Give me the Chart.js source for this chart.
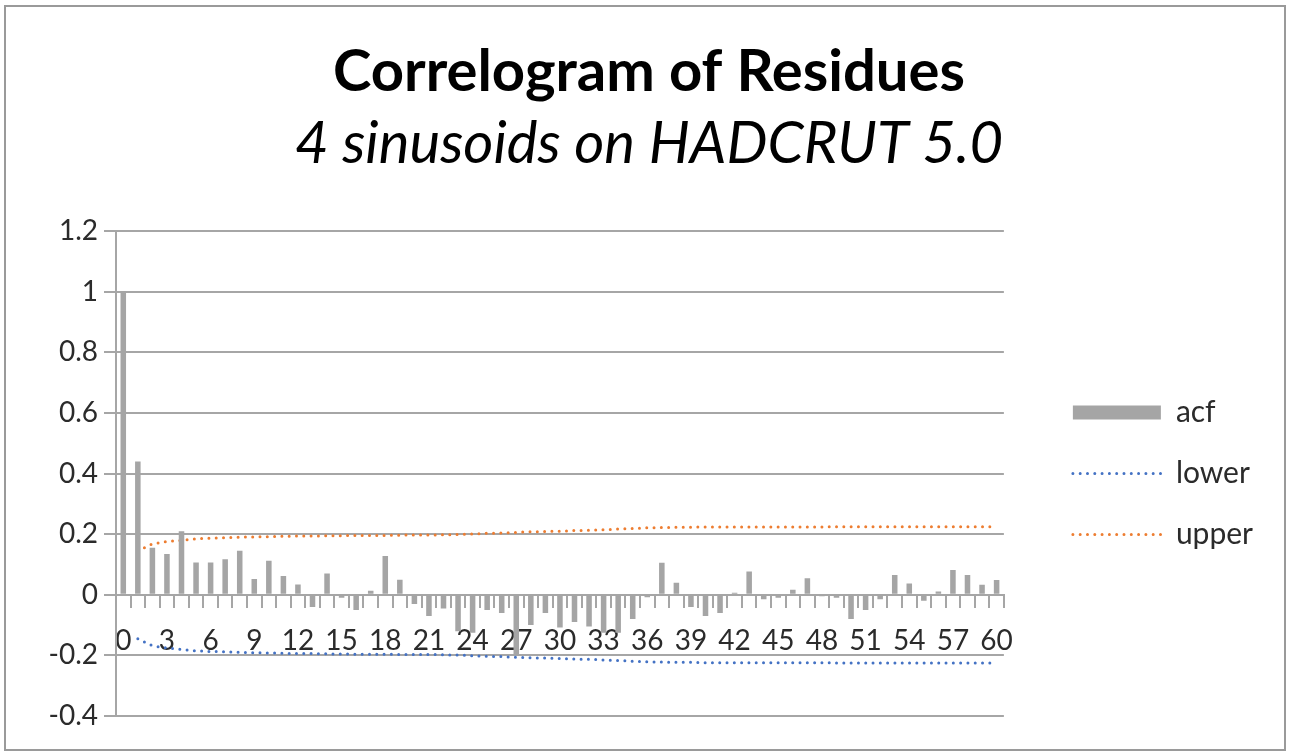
<!DOCTYPE html>
<html>
<head>
<meta charset="utf-8">
<script src="https://cdn.jsdelivr.net/npm/chart.js@4/dist/chart.umd.min.js"></script>
<style>
html, body { margin: 0; padding: 0; background: #fff; }
#wrap { position: relative; width: 1290px; height: 754px; }
#frame { position: absolute; left: 4px; top: 5px; width: 1278px; height: 742px; border: 2px solid #9a9a9a; pointer-events: none; }
</style>
</head>
<body>
<div id="wrap">
  <canvas id="chart" width="1290" height="754"></canvas>
  <div id="frame"></div>
</div>
<script>
// lags 0..60
const lags = ['0','1','2','3','4','5','6','7','8','9','10','11','12','13','14','15','16','17','18','19','20',
  '21','22','23','24','25','26','27','28','29','30','31','32','33','34','35','36','37','38','39','40',
  '41','42','43','44','45','46','47','48','49','50','51','52','53','54','55','56','57','58','59','60'];

// autocorrelation of residues
const acf = [1.0, 0.44, 0.155, 0.135, 0.21, 0.107, 0.107, 0.117, 0.145, 0.052, 0.112,
  0.062, 0.034, -0.04, 0.07, -0.01, -0.05, 0.013, 0.128, 0.05, -0.03,
  -0.07, -0.045, -0.12, -0.125, -0.05, -0.06, -0.2, -0.1, -0.06, -0.108,
  -0.09, -0.105, -0.125, -0.125, -0.08, -0.008, 0.106, 0.04, -0.04, -0.07,
  -0.06, 0.007, 0.077, -0.015, -0.01, 0.017, 0.055, -0.005, -0.01, -0.08,
  -0.05, -0.015, 0.065, 0.037, -0.02, 0.011, 0.082, 0.065, 0.033, 0.049];

// confidence bands
const upper = [null, 0.145, 0.168, 0.176, 0.180, 0.185, 0.187, 0.188, 0.190, 0.191, 0.192,
  0.193, 0.194, 0.194, 0.195, 0.195, 0.196, 0.196, 0.196, 0.197, 0.197,
  0.197, 0.198, 0.199, 0.201, 0.203, 0.204, 0.206, 0.208, 0.209, 0.210,
  0.212, 0.213, 0.215, 0.217, 0.219, 0.221, 0.222, 0.223, 0.223, 0.224,
  0.224, 0.224, 0.224, 0.224, 0.224, 0.224, 0.224, 0.224, 0.225, 0.225,
  0.225, 0.225, 0.225, 0.225, 0.225, 0.225, 0.225, 0.225, 0.225, 0.225];
const lower = [null, -0.145, -0.168, -0.176, -0.180, -0.185, -0.187, -0.188, -0.190, -0.191, -0.192,
  -0.193, -0.194, -0.194, -0.195, -0.195, -0.196, -0.196, -0.196, -0.197, -0.197,
  -0.197, -0.198, -0.199, -0.201, -0.203, -0.204, -0.206, -0.208, -0.209, -0.210,
  -0.212, -0.213, -0.215, -0.217, -0.219, -0.221, -0.222, -0.223, -0.223, -0.224,
  -0.224, -0.224, -0.224, -0.224, -0.224, -0.224, -0.224, -0.224, -0.225, -0.225,
  -0.225, -0.225, -0.225, -0.225, -0.225, -0.225, -0.225, -0.225, -0.225, -0.225];

const yTicks = [-0.4, -0.2, 0, 0.2, 0.4, 0.6, 0.8, 1, 1.2];
const yTickLabels = ['-0.4', '-0.2', '0', '0.2', '0.4', '0.6', '0.8', '1', '1.2'];

const gridGray = '#a6a6a6';
const textCol = '#2b2b2b';

const ctx = document.getElementById('chart').getContext('2d');
new Chart(ctx, {
  type: 'bar',
  data: {
    labels: lags,
    datasets: [
      { type: 'bar', label: 'acf', data: acf, backgroundColor: '#a5a5a5', borderWidth: 0,
        barPercentage: 0.38, categoryPercentage: 1, pointStyle: 'rect' },
      { type: 'line', label: 'lower', data: lower, borderColor: '#4472c4', borderWidth: 3,
        borderDash: [0, 7.3], borderCapStyle: 'round', pointRadius: 0, pointStyle: 'line', fill: false },
      { type: 'line', label: 'upper', data: upper, borderColor: '#ed7d31', borderWidth: 3,
        borderDash: [0, 7.3], borderCapStyle: 'round', pointRadius: 0, pointStyle: 'line', fill: false }
    ]
  },
  options: {
    responsive: false,
    animation: false,
    layout: { padding: { left: 35, right: 27, top: 37, bottom: 38 } },
    plugins: {
      title: {
        display: true, text: 'Correlogram of Residues', color: '#000',
        font: { family: 'Lato', size: 58, weight: 'bold', lineHeight: 1.2 },
        padding: { top: 0, bottom: 0 }
      },
      subtitle: {
        display: true, text: '4 sinusoids on HADCRUT 5.0', color: '#000',
        font: { family: 'Lato', size: 58, style: 'italic', weight: 'normal', lineHeight: 1.2 },
        padding: { top: 3, bottom: 52 }
      },
      legend: {
        position: 'right',
        align: 'center',
        fullSize: false,
        maxWidth: 300,
        labels: {
          usePointStyle: true, pointStyleWidth: 88, boxHeight: 14, padding: 31,
          color: textCol, font: { family: 'Lato', size: 30 },
          generateLabels: (chart) => {
            const items = Chart.defaults.plugins.legend.labels.generateLabels(chart);
            items.forEach(it => {
              const ds = chart.data.datasets[it.datasetIndex];
              if (ds.type === 'line') {
                it.lineDash = ds.borderDash;
                it.lineCap = 'round';
                it.lineWidth = ds.borderWidth;
                it.strokeStyle = ds.borderColor;
              }
            });
            return items;
          }
        }
      },
      tooltip: { enabled: false }
    },
    scales: {
      x: {
        type: 'category',
        position: { y: 0 },
        afterFit: (s) => { s.height = 0; },
        grid: { display: true, drawOnChartArea: false, drawTicks: true, tickLength: 12,
          color: gridGray, lineWidth: 2, offset: true },
        border: { display: true, color: gridGray, width: 2 },
        ticks: {
          autoSkip: false, maxRotation: 0, minRotation: 0, padding: 17,
          color: textCol, font: { family: 'Lato', size: 28 },
          callback: (v, i) => (i % 3 === 0 ? lags[i] : '')
        }
      },
      y: {
        min: -0.4, max: 1.2,
        afterFit: (s) => { s.width = 81; },
        afterBuildTicks: (s) => { s.ticks = yTicks.map(v => ({ value: v })); },
        grid: { color: gridGray, lineWidth: 2, tickLength: 12 },
        border: { display: true, color: gridGray, width: 2 },
        ticks: {
          padding: 6, color: textCol, font: { family: 'Lato', size: 28 },
          callback: (v, i) => yTickLabels[i]
        }
      },
      // empty strip between plot and legend
      spacer: {
        type: 'linear', position: 'right', display: true,
        grid: { display: false }, border: { display: false }, ticks: { display: false },
        afterFit: (s) => { s.width = 38; }
      }
    }
  }
});
</script>
</body>
</html>
